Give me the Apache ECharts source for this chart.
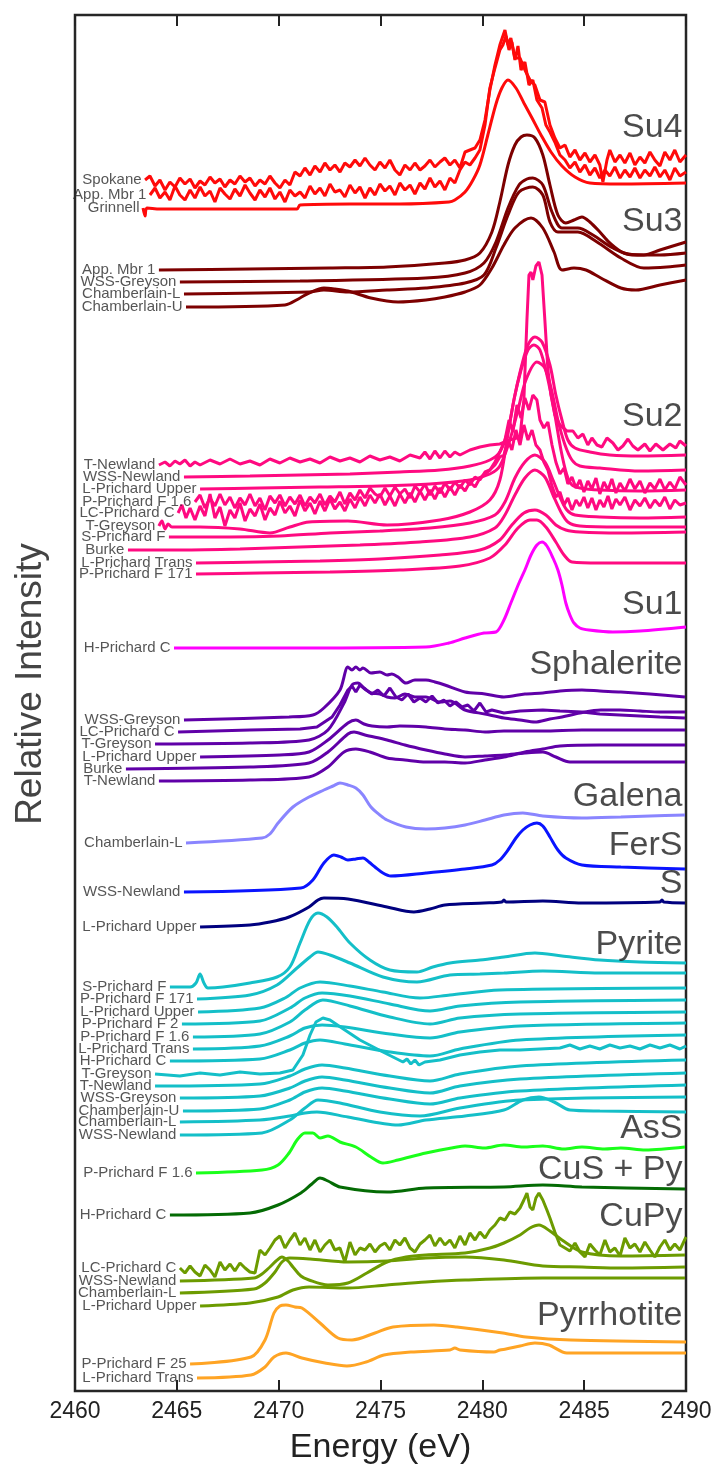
<!DOCTYPE html>
<html>
<head>
<meta charset="utf-8">
<script src="https://cdn.jsdelivr.net/npm/echarts/dist/echarts.min.js"></script>
<style>
html,body{margin:0;padding:0;background:#fff;}
#chart{width:717px;height:1471px;}
</style>
</head>
<body>
<div id="chart"></div>
<script>
// S K-edge XANES spectra, stacked by reference group.
// Each spectrum: [energy (eV), offset intensity] pairs.

const TICK_VALUES = [2460, 2465, 2470, 2475, 2480, 2485, 2490];

// ---- Su4 ----
const su4Spokane = [[2463.44,1211],[2463.68,1215],[2463.93,1205],[2464.17,1211],[2464.42,1201],[2464.66,1209],[2464.91,1204],[2465.15,1213],[2465.40,1207],[2465.65,1212],[2465.89,1203],[2466.14,1210],[2466.38,1206],[2466.63,1214],[2466.87,1208],[2467.12,1212],[2467.36,1204],[2467.61,1211],[2467.85,1207],[2468.10,1215],[2468.35,1209],[2468.59,1213],[2468.84,1205],[2469.08,1211],[2469.33,1207],[2469.57,1215],[2469.82,1208],[2470.06,1203],[2470.31,1211],[2470.55,1206],[2470.80,1219],[2471.05,1215],[2471.29,1223],[2471.54,1216],[2471.78,1225],[2472.03,1219],[2472.27,1228],[2472.52,1221],[2472.76,1226],[2473.01,1219],[2473.25,1228],[2473.50,1224],[2473.75,1231],[2473.99,1225],[2474.24,1233],[2474.48,1226],[2474.73,1221],[2474.97,1229],[2475.22,1223],[2475.46,1231],[2475.71,1221],[2475.95,1216],[2476.20,1226],[2476.45,1221],[2476.69,1228],[2476.94,1221],[2477.18,1225],[2477.43,1231],[2477.67,1224],[2477.92,1229],[2478.16,1233],[2478.41,1226],[2478.65,1231],[2478.90,1223],[2479.15,1239],[2479.39,1241],[2479.64,1243],[2479.88,1251],[2480.13,1271],[2480.37,1301],[2480.62,1326],[2480.86,1346],[2481.11,1361],[2481.26,1346],[2481.40,1353],[2481.60,1333],[2481.85,1333],[2482.09,1321],[2482.34,1311],[2482.58,1306],[2482.83,1291],[2483.07,1289],[2483.32,1266],[2483.56,1253],[2483.81,1243],[2484.06,1246],[2484.30,1234],[2484.55,1241],[2484.79,1231],[2485.04,1238],[2485.28,1229],[2485.53,1236],[2485.77,1226],[2485.92,1209],[2486.12,1231],[2486.26,1241],[2486.51,1229],[2486.76,1236],[2487.00,1228],[2487.25,1238],[2487.49,1226],[2487.74,1234],[2487.98,1228],[2488.23,1239],[2488.47,1231],[2488.72,1225],[2488.96,1239],[2489.21,1231],[2489.45,1241],[2489.70,1229],[2490.00,1236]];
const su4AppMbr1 = [[2463.68,1196],[2463.93,1203],[2464.17,1193],[2464.42,1199],[2464.66,1191],[2464.91,1205],[2465.15,1196],[2465.40,1191],[2465.65,1201],[2465.89,1193],[2466.14,1204],[2466.38,1195],[2466.63,1200],[2466.87,1189],[2467.12,1203],[2467.36,1197],[2467.61,1192],[2467.85,1202],[2468.10,1195],[2468.35,1206],[2468.59,1198],[2468.84,1191],[2469.08,1201],[2469.33,1194],[2469.57,1203],[2469.82,1192],[2470.06,1199],[2470.31,1189],[2470.55,1201],[2470.80,1195],[2471.05,1199],[2471.29,1193],[2471.54,1205],[2471.78,1197],[2472.03,1203],[2472.27,1195],[2472.52,1207],[2472.76,1199],[2473.01,1201],[2473.25,1194],[2473.50,1206],[2473.75,1198],[2473.99,1204],[2474.24,1193],[2474.48,1203],[2474.73,1196],[2474.97,1207],[2475.22,1200],[2475.46,1205],[2475.71,1196],[2475.95,1208],[2476.20,1201],[2476.45,1206],[2476.69,1197],[2476.94,1208],[2477.18,1202],[2477.43,1213],[2477.67,1204],[2477.92,1210],[2478.16,1201],[2478.41,1213],[2478.65,1208],[2478.90,1221],[2479.15,1229],[2479.39,1226],[2479.64,1233],[2479.88,1241],[2480.13,1266],[2480.37,1303],[2480.62,1323],[2480.86,1341],[2481.01,1346],[2481.16,1355],[2481.31,1341],[2481.45,1349],[2481.60,1331],[2481.75,1345],[2481.90,1321],[2482.09,1329],[2482.29,1306],[2482.48,1311],[2482.68,1291],[2482.93,1283],[2483.12,1266],[2483.32,1259],[2483.56,1249],[2483.81,1236],[2484.06,1231],[2484.30,1223],[2484.55,1229],[2484.79,1219],[2485.04,1226],[2485.28,1216],[2485.53,1223],[2485.77,1213],[2486.02,1221],[2486.26,1215],[2486.51,1224],[2486.76,1213],[2487.00,1221],[2487.25,1214],[2487.49,1223],[2487.74,1213],[2487.98,1221],[2488.23,1215],[2488.47,1224],[2488.72,1214],[2488.96,1221],[2489.21,1211],[2489.45,1223],[2489.70,1215],[2490.00,1219]];
const su4Grinnell = [[2463.34,1183],[2463.44,1175],[2463.53,1183],[2464.17,1182],[2466.14,1182],[2468.59,1182],[2470.90,1182],[2471.05,1186],[2473.50,1187],[2475.95,1187],[2478.36,1189],[2478.65,1191],[2479.15,1199],[2479.54,1211],[2479.88,1226],[2480.27,1256],[2480.67,1287],[2480.96,1303],[2481.26,1311],[2481.65,1303],[2482.04,1288],[2482.44,1273],[2482.88,1256],[2483.37,1239],[2483.91,1225],[2484.55,1214],[2485.28,1208],[2486.76,1207],[2490.00,1208]];

// ---- Su3 ----
const su3AppMbr1 = [[2464.12,1121],[2468.59,1122],[2472.52,1123],[2475.32,1124],[2478.16,1128],[2479.15,1131],[2479.88,1138],[2480.47,1159],[2480.86,1189],[2481.26,1226],[2481.60,1246],[2481.90,1254],[2482.19,1256],[2482.58,1253],[2482.97,1236],[2483.32,1206],[2483.71,1176],[2484.10,1168],[2484.50,1171],[2484.89,1174],[2485.28,1169],[2485.77,1159],[2486.26,1148],[2486.95,1138],[2487.93,1136],[2488.72,1141],[2490.00,1149]];
const su3WSSGreyson = [[2465.15,1109],[2471.05,1110],[2477.23,1113],[2479.15,1118],[2480.08,1128],[2480.67,1149],[2481.26,1183],[2481.80,1206],[2482.19,1212],[2482.48,1213],[2482.97,1206],[2483.42,1179],[2483.91,1163],[2484.69,1163],[2485.43,1156],[2486.41,1143],[2487.34,1136],[2488.72,1136],[2490.00,1138]];
const su3ChamberlainL = [[2465.35,1097],[2471.49,1099],[2472.22,1101],[2473.40,1099],[2475.32,1101],[2477.23,1103],[2479.15,1108],[2480.08,1116],[2480.67,1143],[2481.26,1176],[2481.80,1199],[2482.48,1204],[2482.97,1196],[2483.32,1169],[2483.71,1159],[2484.69,1159],[2485.63,1149],[2486.80,1133],[2487.93,1123],[2489.06,1124],[2490.00,1126]];
const su3ChamberlainU = [[2465.45,1084],[2470.31,1086],[2471.05,1093],[2471.49,1098],[2472.22,1103],[2472.76,1102],[2473.40,1100],[2474.53,1093],[2475.86,1089],[2477.23,1091],[2478.16,1094],[2479.15,1099],[2479.88,1106],[2480.47,1123],[2481.06,1146],[2481.60,1163],[2482.39,1173],[2482.97,1163],[2483.52,1139],[2483.91,1121],[2484.50,1123],[2485.09,1121],[2485.82,1113],[2486.80,1103],[2487.54,1101],[2488.72,1106],[2490.00,1111]];

// ---- Su2 ----
const su2TNewland = [[2464.12,926],[2464.42,929],[2464.66,925],[2464.91,930],[2465.15,927],[2465.40,931],[2465.65,925],[2465.89,929],[2466.14,926],[2466.63,931],[2467.12,927],[2467.61,932],[2468.10,927],[2468.59,930],[2469.08,926],[2469.57,932],[2470.06,928],[2470.55,933],[2471.05,929],[2471.54,932],[2472.03,928],[2472.52,934],[2473.01,930],[2473.50,933],[2473.99,929],[2474.48,935],[2474.97,931],[2475.46,934],[2475.95,930],[2476.45,936],[2476.94,933],[2477.18,939],[2477.43,932],[2477.67,940],[2477.92,933],[2478.16,940],[2478.41,934],[2478.65,939],[2478.90,936],[2479.39,941],[2479.88,944],[2480.37,946],[2480.86,947],[2481.35,951],[2481.85,954],[2482.04,991],[2482.19,1071],[2482.29,1116],[2482.39,1119],[2482.48,1111],[2482.63,1125],[2482.78,1129],[2482.93,1116],[2483.07,1071],[2483.22,1021],[2483.37,996],[2483.56,976],[2483.81,966],[2484.15,960],[2484.45,960],[2484.69,953],[2484.94,957],[2485.18,946],[2485.38,953],[2485.63,946],[2485.87,944],[2486.12,953],[2486.41,948],[2486.66,941],[2486.90,945],[2487.15,952],[2487.39,945],[2487.64,941],[2487.98,947],[2488.23,940],[2488.52,947],[2488.87,941],[2489.21,947],[2489.50,943],[2489.70,950],[2490.00,945]];
const su2WSSNewland = [[2465.35,914],[2468.59,915],[2471.05,916],[2473.50,917],[2475.95,919],[2477.92,921],[2479.39,925],[2480.37,931],[2480.86,939],[2481.26,961],[2481.60,996],[2481.94,1026],[2482.24,1046],[2482.58,1054],[2482.93,1049],[2483.32,1026],[2483.61,996],[2483.91,971],[2484.20,951],[2484.55,943],[2485.28,939],[2486.26,936],[2487.74,935],[2490.00,936]];
const su2LPrichardUpper = [[2466.14,902],[2469.08,903],[2472.03,904],[2474.97,905],[2477.43,907],[2479.39,911],[2480.37,917],[2480.86,925],[2481.35,951],[2481.75,981],[2482.14,1011],[2482.68,1029],[2483.07,1023],[2483.42,999],[2483.71,971],[2484.06,946],[2484.40,931],[2484.79,925],[2485.77,923],[2487.74,920],[2490.00,921]];
const su2PPrichardF16 = [[2465.89,889],[2466.14,896],[2466.38,883],[2466.63,893],[2466.87,885],[2467.12,897],[2467.36,886],[2467.61,894],[2467.85,883],[2468.10,893],[2468.35,886],[2468.59,897],[2468.84,885],[2469.08,893],[2469.33,881],[2469.57,895],[2469.82,888],[2470.06,896],[2470.31,885],[2470.55,894],[2470.80,887],[2471.05,896],[2471.29,885],[2471.54,894],[2471.78,888],[2472.03,897],[2472.27,886],[2472.52,895],[2472.76,889],[2473.01,899],[2473.25,887],[2473.50,898],[2473.75,891],[2473.99,901],[2474.24,893],[2474.48,903],[2474.73,897],[2474.97,894],[2475.22,903],[2475.46,895],[2475.71,904],[2475.95,897],[2476.20,902],[2476.45,893],[2476.69,905],[2476.94,899],[2477.18,907],[2477.43,896],[2477.67,905],[2477.92,898],[2478.16,908],[2478.41,901],[2478.65,909],[2478.90,903],[2479.15,911],[2479.39,906],[2479.64,914],[2479.88,911],[2480.13,919],[2480.37,921],[2480.62,929],[2480.86,939],[2481.11,951],[2481.31,971],[2481.50,959],[2481.70,986],[2481.90,973],[2482.09,993],[2482.29,981],[2482.48,996],[2482.68,991],[2482.83,971],[2483.02,963],[2483.22,969],[2483.42,946],[2483.61,929],[2483.81,917],[2484.01,923],[2484.20,907],[2484.40,914],[2484.60,903],[2484.79,911],[2484.99,899],[2485.18,910],[2485.38,902],[2485.58,913],[2485.77,897],[2485.97,909],[2486.17,901],[2486.36,912],[2486.56,898],[2486.76,908],[2487.00,900],[2487.25,912],[2487.49,902],[2487.74,910],[2487.98,898],[2488.23,908],[2488.47,902],[2488.72,912],[2488.96,901],[2489.21,909],[2489.45,902],[2489.70,914],[2490.00,906]];
const su2LCPrichardC = [[2465.06,878],[2465.25,886],[2465.45,873],[2465.65,883],[2465.89,871],[2466.14,885],[2466.38,875],[2466.63,897],[2466.87,873],[2467.12,884],[2467.36,865],[2467.61,881],[2467.85,873],[2468.10,888],[2468.35,870],[2468.59,882],[2468.84,875],[2469.08,887],[2469.33,871],[2469.57,883],[2469.82,876],[2470.06,890],[2470.31,878],[2470.55,885],[2470.80,875],[2471.05,891],[2471.29,880],[2471.54,888],[2471.78,877],[2472.03,890],[2472.27,880],[2472.52,892],[2472.76,882],[2473.01,889],[2473.25,880],[2473.50,892],[2473.75,883],[2473.99,894],[2474.24,885],[2474.48,896],[2474.73,888],[2474.97,897],[2475.22,886],[2475.46,895],[2475.71,885],[2475.95,897],[2476.20,888],[2476.45,898],[2476.69,889],[2476.94,900],[2477.18,891],[2477.43,901],[2477.67,892],[2477.92,903],[2478.16,894],[2478.41,904],[2478.65,896],[2478.90,906],[2479.15,900],[2479.39,909],[2479.64,904],[2479.88,913],[2480.13,917],[2480.37,921],[2480.62,926],[2480.86,934],[2481.06,936],[2481.26,951],[2481.45,941],[2481.65,961],[2481.85,946],[2482.04,966],[2482.24,951],[2482.44,961],[2482.63,946],[2482.83,941],[2483.02,929],[2483.22,921],[2483.42,905],[2483.61,894],[2483.81,899],[2484.01,886],[2484.20,893],[2484.40,881],[2484.60,891],[2484.79,885],[2484.99,894],[2485.18,883],[2485.38,893],[2485.58,881],[2485.77,891],[2485.97,884],[2486.17,895],[2486.36,882],[2486.56,892],[2486.76,886],[2487.00,894],[2487.25,881],[2487.49,891],[2487.74,885],[2487.98,893],[2488.23,883],[2488.47,891],[2488.72,885],[2488.96,894],[2489.21,882],[2489.45,891],[2489.70,886],[2490.00,888]];
const su2TGreyson = [[2464.12,865],[2464.27,870],[2464.42,862],[2464.57,867],[2464.76,864],[2466.14,864],[2468.10,862],[2469.57,858],[2470.55,864],[2471.49,869],[2473.40,870],[2475.32,866],[2477.92,871],[2479.39,879],[2480.37,891],[2480.86,911],[2481.21,951],[2481.55,991],[2481.90,1021],[2482.24,1041],[2482.53,1046],[2482.83,1041],[2483.17,1016],[2483.52,981],[2483.86,941],[2484.15,916],[2484.40,906],[2484.79,903],[2485.77,901],[2487.74,900],[2490.00,901]];
const su2SPrichardF = [[2464.61,854],[2467.61,854],[2470.06,855],[2472.52,858],[2474.97,860],[2477.43,863],[2479.39,868],[2480.62,876],[2481.11,889],[2481.60,913],[2482.09,929],[2482.58,936],[2483.07,929],[2483.47,911],[2483.81,894],[2484.15,881],[2484.55,876],[2485.77,874],[2487.74,873],[2490.00,874]];
const su2Burke = [[2462.60,841],[2465.15,841],[2468.10,842],[2471.05,844],[2473.99,846],[2476.94,849],[2479.39,854],[2480.62,863],[2481.11,876],[2481.60,896],[2482.09,913],[2482.58,921],[2483.07,914],[2483.47,896],[2483.86,879],[2484.20,869],[2484.79,865],[2486.76,864],[2490.00,864]];
const su2LPrichardTrans = [[2465.94,828],[2469.08,829],[2472.03,830],[2474.97,832],[2477.92,836],[2479.88,841],[2480.86,851],[2481.45,866],[2482.04,878],[2482.58,881],[2483.12,876],[2483.61,866],[2484.10,861],[2484.79,859],[2486.76,858],[2490.00,859]];
const su2PPrichardF171 = [[2465.94,817],[2469.08,818],[2472.52,819],[2475.95,821],[2478.90,825],[2480.37,833],[2481.11,846],[2481.75,863],[2482.34,871],[2482.68,871],[2483.12,864],[2483.61,849],[2484.01,836],[2484.40,829],[2485.77,828],[2490.00,828]];

// ---- Su1 ----
const su1HPrichardC = [[2464.86,743],[2471.05,743],[2477.23,744],[2478.36,748],[2479.15,753],[2480.08,758],[2480.67,759],[2481.06,771],[2481.40,788],[2481.80,808],[2482.09,821],[2482.39,836],[2482.68,846],[2482.93,849],[2483.17,845],[2483.47,833],[2483.71,821],[2483.91,806],[2484.10,788],[2484.30,776],[2484.50,768],[2484.79,763],[2485.23,761],[2486.41,759],[2487.74,760],[2490.00,764]];

// ---- Sphalerite ----
const sphWSSGreyson = [[2465.35,671],[2470.51,674],[2471.68,676],[2472.22,683],[2473.01,701],[2473.40,724],[2473.60,721],[2473.79,724],[2473.99,721],[2474.14,723],[2474.53,718],[2474.97,719],[2475.32,716],[2475.56,717],[2475.86,714],[2476.25,708],[2476.69,711],[2477.23,711],[2477.67,709],[2478.16,706],[2479.15,699],[2480.13,697],[2481.06,694],[2482.09,697],[2482.97,698],[2483.81,700],[2484.89,701],[2485.77,700],[2486.80,699],[2488.23,697],[2489.95,694]];
const sphLCPrichardC = [[2465.06,659],[2468.59,661],[2471.05,662],[2471.88,664],[2472.62,674],[2473.01,686],[2473.40,701],[2473.60,705],[2473.79,699],[2473.99,706],[2474.29,701],[2474.58,697],[2474.87,701],[2475.17,695],[2475.46,703],[2475.76,694],[2476.05,691],[2476.35,697],[2476.64,689],[2476.94,693],[2477.23,689],[2477.53,695],[2477.82,688],[2478.11,691],[2478.41,685],[2478.70,689],[2479.00,684],[2479.29,686],[2479.59,680],[2479.88,688],[2480.18,679],[2480.47,681],[2481.06,678],[2481.85,680],[2482.97,681],[2483.81,680],[2484.89,679],[2485.77,677],[2486.76,676],[2487.74,675],[2488.72,674],[2489.95,673]];
const sphTGreyson = [[2463.93,647],[2468.59,648],[2471.49,651],[2472.42,661],[2473.21,688],[2473.60,706],[2473.89,708],[2474.19,703],[2474.53,698],[2474.97,697],[2475.32,694],[2475.71,693],[2476.20,697],[2476.69,694],[2477.23,694],[2477.92,689],[2478.41,690],[2479.15,681],[2480.13,677],[2481.06,673],[2481.85,671],[2482.58,669],[2483.32,672],[2483.91,674],[2484.79,678],[2485.82,681],[2486.76,681],[2487.74,680],[2488.72,679],[2489.95,679]];
const sphLPrichardUpper = [[2466.14,634],[2470.06,636],[2471.49,639],[2472.42,651],[2473.40,668],[2473.79,671],[2474.19,667],[2474.58,665],[2475.32,664],[2475.95,665],[2477.23,664],[2478.16,662],[2479.15,661],[2480.13,659],[2481.06,660],[2482.97,660],[2484.89,661],[2486.76,661],[2489.95,661]];
const sphBurke = [[2462.50,622],[2468.59,624],[2471.49,628],[2472.42,639],[2473.40,657],[2473.70,659],[2474.24,656],[2475.32,651],[2476.20,646],[2477.23,641],[2478.16,637],[2479.15,634],[2480.13,635],[2481.06,636],[2482.09,638],[2482.97,639],[2483.61,634],[2484.30,629],[2485.77,629],[2487.74,629],[2489.95,629]];
const sphTNewland = [[2464.12,610],[2468.59,611],[2471.49,614],[2472.42,624],[2473.21,639],[2473.79,642],[2474.48,639],[2475.32,633],[2476.20,631],[2477.23,629],[2478.16,629],[2479.15,628],[2480.13,631],[2481.06,634],[2482.09,639],[2482.97,642],[2483.81,645],[2485.77,646],[2487.74,646],[2489.95,646]];

// ---- Galena, FerS, S ----
const galChamberlainL = [[2465.45,548],[2469.18,553],[2469.57,557],[2469.97,568],[2470.70,584],[2471.49,594],[2472.22,601],[2472.67,605],[2473.01,608],[2473.40,606],[2473.79,603],[2474.14,596],[2474.53,584],[2474.97,576],[2475.32,571],[2476.25,564],[2477.23,562],[2478.16,563],[2479.15,566],[2480.13,571],[2481.06,576],[2481.99,578],[2482.97,575],[2484.89,573],[2486.80,574],[2488.23,575],[2489.95,576]];
const fersWSSNewland = [[2465.35,499],[2471.09,503],[2471.68,511],[2472.22,528],[2472.71,536],[2473.06,534],[2473.40,531],[2473.79,532],[2474.14,533],[2474.43,529],[2474.73,524],[2475.12,518],[2475.51,515],[2477.23,518],[2479.15,522],[2480.47,526],[2480.86,531],[2481.26,541],[2481.65,553],[2481.99,561],[2482.34,566],[2482.68,568],[2482.97,565],[2483.32,554],[2483.71,541],[2484.10,533],[2484.89,526],[2486.80,524],[2489.95,522]];
const sLPrichardUpper = [[2466.14,464],[2468.59,466],[2469.57,469],[2470.51,474],[2471.49,484],[2471.93,491],[2472.22,493],[2473.40,492],[2475.32,484],[2476.64,479],[2477.43,482],[2478.16,486],[2480.08,488],[2480.96,489],[2481.06,491],[2481.16,489],[2482.97,490],[2484.89,488],[2488.72,489],[2488.82,491],[2488.91,489],[2489.95,488]];

// ---- Pyrite ----
const pyrSPrichardF = [[2464.66,404],[2465.65,404],[2465.94,408],[2466.14,417],[2466.33,408],[2466.53,403],[2467.27,404],[2468.59,408],[2469.92,414],[2470.55,424],[2471.05,448],[2471.54,471],[2471.93,478],[2472.37,474],[2472.86,464],[2473.50,448],[2474.48,431],[2475.46,421],[2476.79,419],[2477.57,424],[2478.41,428],[2479.88,431],[2481.06,434],[2482.58,438],[2483.91,435],[2485.77,431],[2487.74,429],[2490.00,428]];
const pyrPPrichardF171 = [[2465.99,392],[2468.59,396],[2469.92,406],[2470.90,423],[2471.54,434],[2471.93,439],[2472.52,436],[2473.50,428],[2475.12,414],[2476.79,409],[2478.41,416],[2479.88,417],[2481.06,418],[2482.97,420],[2485.77,418],[2490.00,418]];
const pyrLPrichardUpper = [[2466.04,379],[2469.08,383],[2470.31,393],[2471.05,403],[2472.03,409],[2473.50,405],[2475.12,399],[2476.94,393],[2478.41,396],[2480.86,401],[2490.00,403]];
const pyrPPrichardF2 = [[2465.25,367],[2469.08,370],[2470.55,383],[2471.29,393],[2472.13,398],[2473.50,395],[2475.46,387],[2477.43,380],[2478.90,385],[2481.85,389],[2490.00,391]];
const pyrPPrichardF16 = [[2465.79,354],[2469.08,357],[2470.55,369],[2471.29,381],[2472.17,391],[2473.50,385],[2475.46,374],[2477.43,367],[2478.90,373],[2481.85,377],[2490.00,379]];
const pyrLPrichardTrans = [[2465.79,342],[2469.08,345],[2470.55,355],[2471.29,363],[2472.13,366],[2473.25,364],[2475.46,357],[2477.43,353],[2478.90,359],[2481.85,365],[2490.00,368]];
const pyrHPrichardC = [[2464.66,330],[2469.08,332],[2470.55,341],[2471.29,348],[2472.03,351],[2473.25,347],[2475.46,339],[2477.43,335],[2478.90,342],[2481.85,351],[2490.00,356]];
const pyrTGreyson = [[2463.93,317],[2465.15,315],[2466.14,318],[2467.12,316],[2468.10,319],[2469.08,317],[2470.06,318],[2470.70,321],[2471.19,336],[2471.54,356],[2471.83,369],[2472.17,373],[2472.52,371],[2473.25,361],[2473.99,351],[2475.12,339],[2475.71,333],[2476.10,329],[2476.30,332],[2476.49,327],[2476.69,331],[2476.89,326],[2477.18,329],[2477.92,331],[2478.90,336],[2479.88,339],[2480.86,341],[2481.85,341],[2482.83,342],[2483.81,343],[2484.30,346],[2484.79,342],[2485.28,345],[2485.77,342],[2486.26,346],[2486.76,343],[2487.25,345],[2487.74,342],[2488.23,346],[2488.72,343],[2489.21,346],[2489.70,342],[2490.00,345]];
const pyrTNewland = [[2463.93,305],[2469.08,307],[2470.55,315],[2471.29,322],[2472.13,326],[2473.25,323],[2475.46,315],[2477.43,310],[2478.90,317],[2481.85,325],[2490.00,331]];
const pyrWSSGreyson = [[2465.15,293],[2469.08,295],[2470.55,303],[2471.29,310],[2472.13,314],[2473.25,311],[2475.46,303],[2477.43,298],[2478.90,305],[2481.85,312],[2490.00,318]];
const pyrChamberlainU = [[2465.30,280],[2469.08,282],[2470.55,291],[2471.29,299],[2472.13,303],[2473.25,300],[2475.46,292],[2477.43,287],[2478.90,293],[2481.85,300],[2490.00,306]];
const pyrChamberlainL = [[2465.15,269],[2469.08,271],[2470.55,275],[2471.29,278],[2471.88,279],[2473.40,274],[2475.86,266],[2477.23,271],[2479.15,275],[2481.06,281],[2481.99,291],[2482.78,294],[2483.52,289],[2484.30,281],[2485.77,280],[2490.00,279]];
const pyrWSSNewland = [[2465.15,256],[2469.18,258],[2470.55,271],[2471.29,283],[2471.93,291],[2473.01,288],[2474.97,279],[2476.94,275],[2478.90,283],[2481.85,291],[2490.00,294]];

// ---- AsS, CuS + Py ----
const assPPrichardF16 = [[2465.94,218],[2469.18,221],[2469.97,226],[2470.51,238],[2470.90,251],[2471.29,258],[2471.68,258],[2472.03,253],[2472.42,255],[2473.01,249],[2473.79,244],[2474.53,234],[2475.12,228],[2475.86,231],[2477.23,238],[2478.75,244],[2479.15,245],[2480.10,243],[2481.06,246],[2482.00,244],[2482.97,245],[2484.00,242],[2484.89,244],[2486.00,242],[2486.80,243],[2488.00,241],[2489.95,244]];
const cusHPrichardC = [[2464.66,176],[2468.59,178],[2469.97,186],[2471.09,198],[2471.63,207],[2472.03,213],[2472.42,210],[2473.01,204],[2475.32,199],[2477.23,203],[2481.06,204],[2482.97,206],[2484.89,204],[2489.95,202]];

// ---- CuPy ----
const cupyLCPrichardC = [[2465.15,123],[2465.40,118],[2465.65,125],[2465.89,119],[2466.14,115],[2466.38,126],[2466.63,121],[2466.87,114],[2467.12,129],[2467.36,121],[2467.61,127],[2467.85,120],[2468.10,128],[2468.35,123],[2468.59,119],[2468.84,118],[2469.08,141],[2469.33,136],[2469.57,143],[2469.82,151],[2470.06,155],[2470.31,143],[2470.55,151],[2470.80,158],[2471.05,146],[2471.29,153],[2471.54,141],[2471.78,151],[2472.03,139],[2472.27,146],[2472.52,151],[2472.76,141],[2473.01,143],[2473.25,129],[2473.50,149],[2473.75,136],[2473.99,143],[2474.24,141],[2474.48,147],[2474.73,139],[2474.97,145],[2475.22,148],[2475.46,141],[2475.71,151],[2475.95,146],[2476.20,153],[2476.45,143],[2476.69,139],[2476.94,147],[2477.18,151],[2477.43,156],[2477.67,145],[2477.92,153],[2478.16,146],[2478.41,151],[2478.65,143],[2478.90,155],[2479.15,146],[2479.39,158],[2479.64,151],[2479.88,159],[2480.13,153],[2480.37,161],[2480.62,166],[2480.86,173],[2481.11,171],[2481.35,179],[2481.60,177],[2481.85,183],[2482.04,191],[2482.19,198],[2482.34,184],[2482.48,181],[2482.63,193],[2482.78,198],[2482.97,191],[2483.17,181],[2483.32,173],[2483.56,159],[2483.81,146],[2484.06,143],[2484.30,140],[2484.55,148],[2484.79,139],[2485.04,134],[2485.28,147],[2485.53,141],[2485.77,136],[2486.02,151],[2486.26,139],[2486.51,143],[2486.76,135],[2487.00,153],[2487.25,143],[2487.49,147],[2487.74,139],[2487.98,149],[2488.23,141],[2488.47,134],[2488.72,144],[2488.96,151],[2489.21,141],[2489.45,147],[2489.70,141],[2490.00,154]];
const cupyWSSNewland = [[2465.15,110],[2468.79,113],[2469.18,117],[2469.57,124],[2469.87,130],[2470.16,134],[2470.46,130],[2470.70,124],[2471.09,115],[2471.49,111],[2472.42,106],[2473.40,108],[2474.33,118],[2475.32,129],[2476.25,134],[2477.23,136],[2479.15,138],[2480.37,143],[2481.06,148],[2481.85,156],[2482.34,163],[2482.78,166],[2483.32,160],[2483.91,151],[2484.89,139],[2486.80,135],[2489.95,136]];
const cupyChamberlainL = [[2465.15,98],[2468.79,102],[2469.33,108],[2469.82,119],[2470.16,129],[2470.55,133],[2471.54,132],[2473.40,129],[2475.32,130],[2477.23,133],[2479.15,134],[2481.06,131],[2482.97,125],[2484.89,124],[2486.80,123],[2489.95,124]];
const cupyLPrichardUpper = [[2466.14,85],[2468.59,88],[2469.97,94],[2470.70,101],[2471.49,104],[2473.40,103],[2475.32,106],[2477.23,109],[2479.15,111],[2482.97,113],[2489.95,113]];

// ---- Pyrrhotite ----
const poPPrichardF25 = [[2465.65,27],[2468.64,34],[2469.33,51],[2469.77,78],[2470.06,85],[2470.36,86],[2470.80,84],[2471.14,83],[2472.03,68],[2472.91,53],[2473.60,51],[2474.73,58],[2475.61,64],[2477.62,66],[2478.75,64],[2481.01,58],[2482.14,54],[2484.35,51],[2490.00,49]];
const poLPrichardTrans = [[2465.99,13],[2468.64,16],[2469.33,24],[2469.77,34],[2470.36,38],[2471.14,33],[2472.27,28],[2473.35,25],[2474.29,29],[2475.17,36],[2476.49,39],[2478.41,41],[2478.65,43],[2478.90,41],[2480.57,39],[2480.86,41],[2481.16,42],[2481.85,45],[2482.58,48],[2483.27,46],[2484.15,38],[2485.48,38],[2490.00,38]];

// Group table: title, line colour, and member spectra [label, data, noisy?]
const GROUPS = [
  { title: 'Su4', color: '#ff0a0a', members: [['Spokane', su4Spokane, true], ['App. Mbr 1', su4AppMbr1, true], ['Grinnell', su4Grinnell, false]] },
  { title: 'Su3', color: '#7d0000', members: [['App. Mbr 1', su3AppMbr1], ['WSS-Greyson', su3WSSGreyson], ['Chamberlain-L', su3ChamberlainL], ['Chamberlain-U', su3ChamberlainU]] },
  { title: 'Su2', color: '#ff0a80', members: [['T-Newland', su2TNewland, true], ['WSS-Newland', su2WSSNewland], ['L-Prichard Upper', su2LPrichardUpper], ['P-Prichard F 1.6', su2PPrichardF16, true], ['LC-Prichard C', su2LCPrichardC, true], ['T-Greyson', su2TGreyson], ['S-Prichard F', su2SPrichardF], ['Burke', su2Burke], ['L-Prichard Trans', su2LPrichardTrans], ['P-Prichard F 171', su2PPrichardF171]] },
  { title: 'Su1', color: '#ff00ff', members: [['H-Prichard C', su1HPrichardC]] },
  { title: 'Sphalerite', color: '#6000a8', members: [['WSS-Greyson', sphWSSGreyson], ['LC-Prichard C', sphLCPrichardC, true], ['T-Greyson', sphTGreyson], ['L-Prichard Upper', sphLPrichardUpper], ['Burke', sphBurke], ['T-Newland', sphTNewland]] },
  { title: 'Galena', color: '#8a85ff', members: [['Chamberlain-L', galChamberlainL]] },
  { title: 'FerS', color: '#0a14ff', members: [['WSS-Newland', fersWSSNewland]] },
  { title: 'S', color: '#00007f', members: [['L-Prichard Upper', sLPrichardUpper]] },
  { title: 'Pyrite', color: '#14bfc8', members: [['S-Prichard F', pyrSPrichardF], ['P-Prichard F 171', pyrPPrichardF171], ['L-Prichard Upper', pyrLPrichardUpper], ['P-Prichard F 2', pyrPPrichardF2], ['P-Prichard F 1.6', pyrPPrichardF16], ['L-Prichard Trans', pyrLPrichardTrans], ['H-Prichard C', pyrHPrichardC], ['T-Greyson', pyrTGreyson, true], ['T-Newland', pyrTNewland], ['WSS-Greyson', pyrWSSGreyson], ['Chamberlain-U', pyrChamberlainU], ['Chamberlain-L', pyrChamberlainL], ['WSS-Newland', pyrWSSNewland]] },
  { title: 'AsS', color: '#1aff1a', members: [['P-Prichard F 1.6', assPPrichardF16]] },
  { title: 'CuS + Py', color: '#046b04', members: [['H-Prichard C', cusHPrichardC]] },
  { title: 'CuPy', color: '#6c9b00', members: [['LC-Prichard C', cupyLCPrichardC, true], ['WSS-Newland', cupyWSSNewland], ['Chamberlain-L', cupyChamberlainL], ['L-Prichard Upper', cupyLPrichardUpper]] },
  { title: 'Pyrrhotite', color: '#ffa424', members: [['P-Prichard F 25', poPPrichardF25], ['L-Prichard Trans', poLPrichardTrans]] }
];

// Vertical anchor (in offset units) of each group heading, right-aligned at the top energy
const TITLE_LEVEL = { 'Su4': 1263, 'Su3': 1169, 'Su2': 974, 'Su1': 786, 'Sphalerite': 726, 'Galena': 594, 'FerS': 545, 'S': 507, 'Pyrite': 446, 'AsS': 262, 'CuS + Py': 221, 'CuPy': 174, 'Pyrrhotite': 75 };

const FONT = '"Liberation Sans", Arial, Helvetica, sans-serif';
const E_MIN = TICK_VALUES[0], E_MAX = TICK_VALUES[TICK_VALUES.length - 1];

const series = [];
const nameLabels = [];
GROUPS.forEach(g => {
  g.members.forEach(([label, data, noisy]) => {
    series.push({
      type: 'line',
      name: label,
      data: data,
      showSymbol: false,
      smooth: noisy ? false : 0.3,
      lineStyle: { color: g.color, width: 3 },
      itemStyle: { color: g.color },
      silent: true,
      z: 2
    });
    nameLabels.push({ name: label, value: data[0] });
  });
});

// spectrum names at the start of each trace
series.push({
  type: 'scatter',
  data: nameLabels,
  symbolSize: 1,
  itemStyle: { color: 'rgba(0,0,0,0)' },
  silent: true,
  z: 5,
  label: { show: true, position: 'left', distance: 3, formatter: p => p.name, fontSize: 15, color: '#2a2a2a', fontFamily: FONT }
});

// group headings
series.push({
  type: 'scatter',
  data: GROUPS.map(g => ({ name: g.title, value: [E_MAX, TITLE_LEVEL[g.title]] })),
  symbolSize: 1,
  itemStyle: { color: 'rgba(0,0,0,0)' },
  silent: true,
  clip: false,
  z: 6,
  label: { show: true, position: 'left', distance: 3, formatter: p => p.name, fontSize: 34, color: '#1e1e1e', fontFamily: FONT }
});

const tickStyle = { show: true, inside: true, length: 11, lineStyle: { color: '#222', width: 2 } };

const chart = echarts.init(document.getElementById('chart'), null, { renderer: 'canvas' });
chart.setOption({
  animation: false,
  backgroundColor: '#fff',
  grid: { left: 75, right: 31, top: 15, bottom: 80, show: true, borderColor: '#262626', borderWidth: 2.5 },
  xAxis: [
    {
      type: 'value', min: E_MIN, max: E_MAX, interval: 5, position: 'bottom',
      axisLine: { show: false }, axisTick: tickStyle, splitLine: { show: false },
      axisLabel: { fontSize: 23, color: '#222', margin: 9, fontFamily: FONT, showMinLabel: true, showMaxLabel: true, formatter: v => String(v) },
      name: 'Energy (eV)', nameLocation: 'middle', nameGap: 40,
      nameTextStyle: { fontSize: 34, color: '#222', fontFamily: FONT }
    },
    {
      type: 'value', min: E_MIN, max: E_MAX, interval: 5, position: 'top',
      axisLine: { show: false }, axisTick: tickStyle, splitLine: { show: false },
      axisLabel: { show: false }
    }
  ],
  yAxis: {
    type: 'value', min: 0, max: 1376,
    axisLine: { show: false }, axisTick: { show: false }, axisLabel: { show: false }, splitLine: { show: false }
  },
  graphic: [{
    type: 'text', x: 31, y: 684, rotation: Math.PI / 2,
    style: { text: 'Relative Intensity', fontSize: 37, fontFamily: FONT, fill: '#444', textAlign: 'center', textVerticalAlign: 'middle' }
  }],
  series: series
});
</script>
</body>
</html>
